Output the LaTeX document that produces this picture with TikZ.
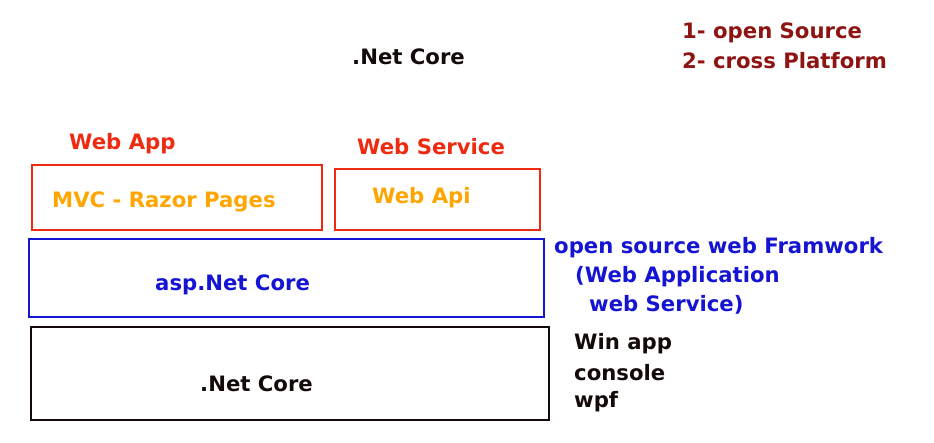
\documentclass[tikz,border=0pt]{standalone}
\usepackage{fontspec}
\setmainfont{DejaVu Sans}
\definecolor{cred}{HTML}{EE2A10}
\definecolor{corange}{HTML}{FFA500}
\definecolor{cblue}{HTML}{1414D2}
\definecolor{cdred}{HTML}{8E1414}
\definecolor{cblack}{HTML}{140A0A}
\begin{document}
\begin{tikzpicture}[x=1pt,y=-1pt,
  txt/.style={anchor=west,inner sep=0pt,font=\bfseries\fontsize{21.2}{25}\selectfont},
  layer/.style={draw,line width=1.8pt,inner sep=0pt}]
\useasboundingbox (0,0) rectangle (934,442);
% boxes
\node[layer,draw=cred,minimum width=290,minimum height=65,anchor=north west] (webappbox) at (31,164) {};
\node[layer,draw=cred,minimum width=205,minimum height=61,anchor=north west] (webapibox) at (334,168) {};
\node[layer,draw=cblue,minimum width=515,minimum height=78,anchor=north west] (aspbox) at (28,238) {};
\node[layer,draw=cblack,minimum width=518,minimum height=93,anchor=north west] (netbox) at (30,326) {};
% texts
\node[txt,text=cblack] (title) at (352,57) {.Net Core};
\node[txt,text=cdred] (f1) at (682,33) {1- open Source};
\node[txt,text=cdred] (f2) at (682,61) {2- cross Platform};
\node[txt,text=cred] (webapp) at (69,144) {Web App};
\node[txt,text=cred] (websvc) at (357,147) {Web Service};
\node[txt,text=corange] (mvc) at (52,202) {MVC - Razor Pages};
\node[txt,text=corange] (webapi) at (372,198) {Web Api};
\node[txt,text=cblue] (asp) at (155,285) {asp.Net Core};
\node[txt,text=cblack] (net) at (200,384) {.Net Core};
\node[txt,text=cblue] (b1) at (554,248) {open source web Framwork};
\node[txt,text=cblue] (b2) at (575,277) {(Web Application};
\node[txt,text=cblue] (b3) at (589,305) {web Service)};
\node[txt,text=cblack] (k1) at (574,344) {Win app};
\node[txt,text=cblack] (k2) at (574,373) {console};
\node[txt,text=cblack] (k3) at (574,402) {wpf};
\end{tikzpicture}
\end{document}
